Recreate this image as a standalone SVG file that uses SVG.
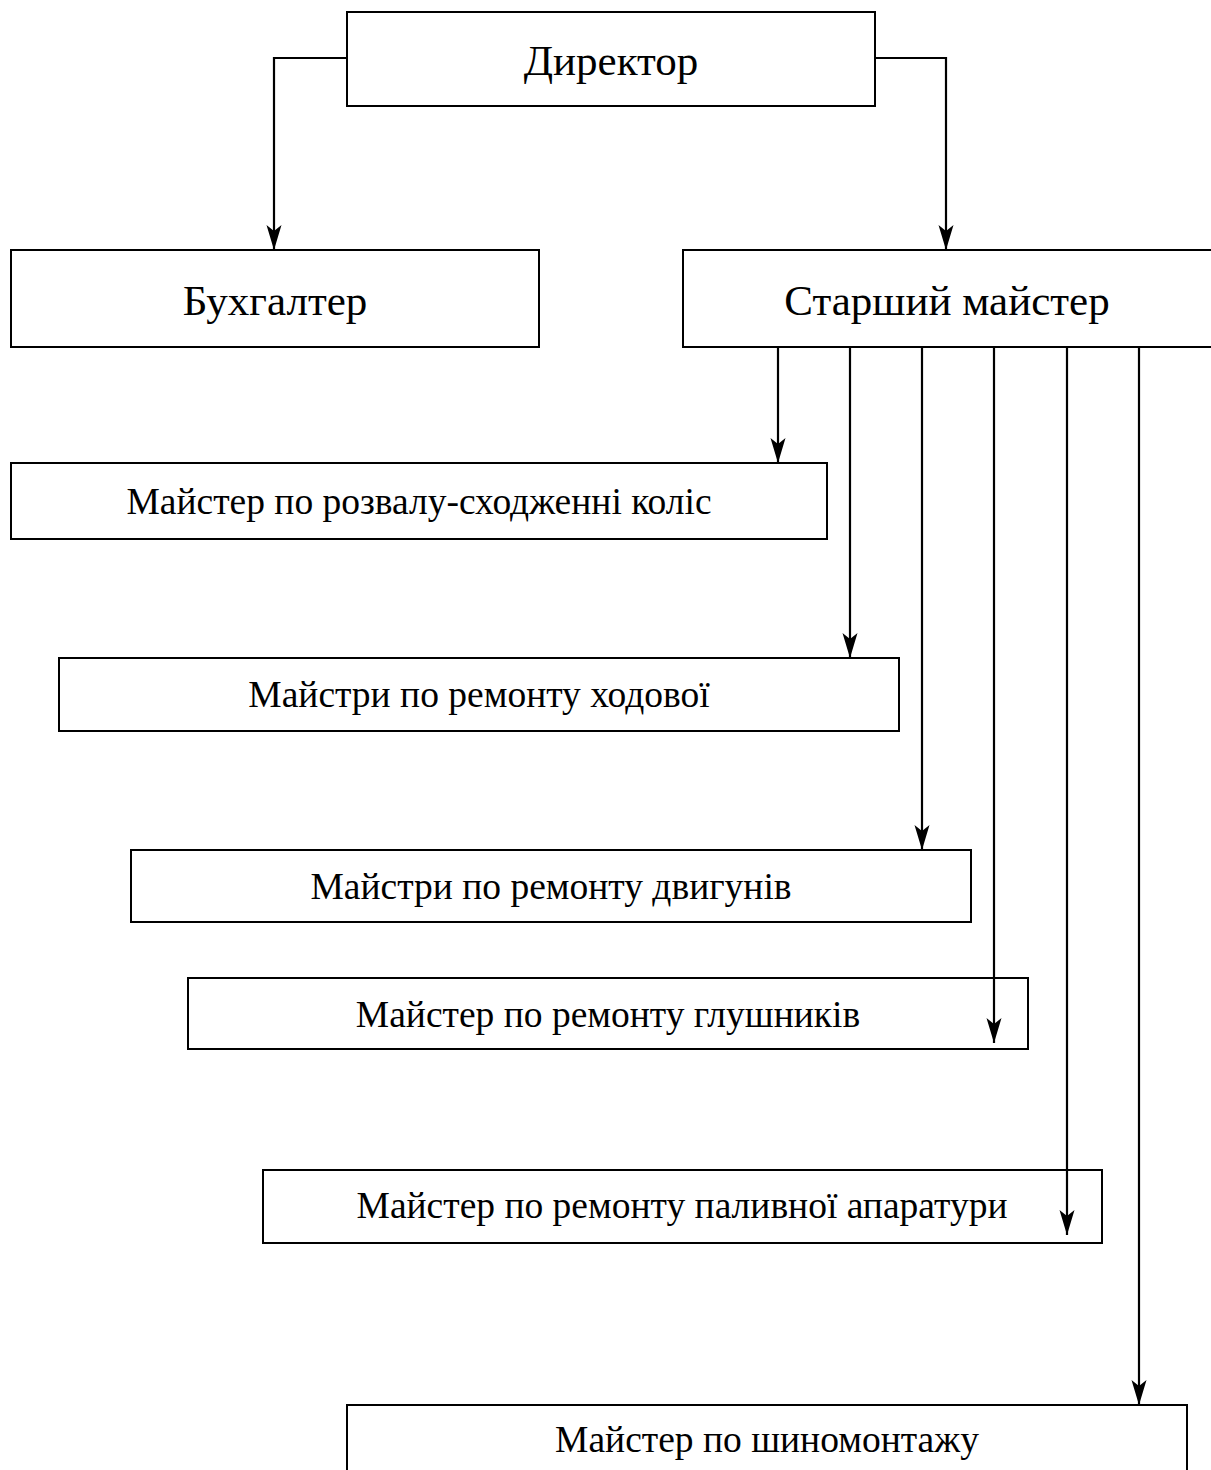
<svg xmlns="http://www.w3.org/2000/svg" width="1211" height="1470" viewBox="0 0 1211 1470">
<style>
.box{fill:#fff;stroke:#000;stroke-width:2}
.t{font-family:"Liberation Serif","Times New Roman",serif;fill:#000;text-anchor:middle}
.big{font-size:43px}
.sm{font-size:37.5px}
.c{fill:none;stroke:#000;stroke-width:2.2}
</style>
<defs>
<marker id="ah" viewBox="-26 -9 27 18" refX="0" refY="0" markerWidth="27" markerHeight="18" markerUnits="userSpaceOnUse" orient="auto">
<path d="M0,0 L-25,-7.5 L-19,0 L-25,7.5 Z" fill="#000"/>
</marker>
</defs>
<rect width="1211" height="1470" fill="#fff"/>
<g id="n-director"><rect class="box" x="347" y="12" width="528" height="94"/><text class="t big" x="611" y="75">Директор</text></g>
<g id="n-bookkeeper"><rect class="box" x="11" y="250" width="528" height="97"/><text class="t big" x="275" y="315">Бухгалтер</text></g>
<g id="n-senior"><rect class="box" x="683" y="250" width="540" height="97"/><text class="t big" x="947" y="315">Старший майстер</text></g>
<g id="n-m1"><rect class="box" x="11" y="463" width="816" height="76"/><text class="t sm" x="419" y="514">Майстер по розвалу-сходженні коліс</text></g>
<g id="n-m2"><rect class="box" x="59" y="658" width="840" height="73"/><text class="t sm" x="479" y="707">Майстри по ремонту ходової</text></g>
<g id="n-m3"><rect class="box" x="131" y="850" width="840" height="72"/><text class="t sm" x="551" y="899">Майстри по ремонту двигунів</text></g>
<g id="n-m4"><rect class="box" x="188" y="978" width="840" height="71"/><text class="t sm" x="608" y="1027">Майстер по ремонту глушників</text></g>
<g id="n-m5"><rect class="box" x="263" y="1170" width="839" height="73"/><text class="t sm" x="682" y="1218">Майстер по ремонту паливної апаратури</text></g>
<g id="n-m6"><rect class="box" x="347" y="1405" width="840" height="80"/><text class="t sm" x="767" y="1452">Майстер по шиномонтажу</text></g>
<g id="connectors">
<path class="c" d="M347,58 H274 V250" marker-end="url(#ah)"/>
<path class="c" d="M875,58 H946 V250" marker-end="url(#ah)"/>
<path class="c" d="M778,347 V463" marker-end="url(#ah)"/>
<path class="c" d="M850,347 V658" marker-end="url(#ah)"/>
<path class="c" d="M922,347 V850" marker-end="url(#ah)"/>
<path class="c" d="M994,347 V1043" marker-end="url(#ah)"/>
<path class="c" d="M1067,347 V1235" marker-end="url(#ah)"/>
<path class="c" d="M1139,347 V1405" marker-end="url(#ah)"/>
</g>
</svg>
